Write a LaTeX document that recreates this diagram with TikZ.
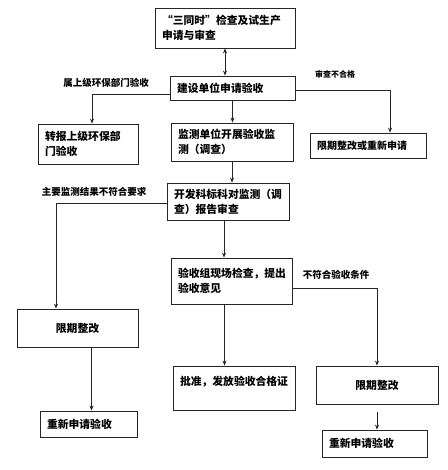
\documentclass[tikz,border=0pt]{standalone}
\usepackage{fontspec}
\newfontfamily\cjk{Noto Sans CJK SC}
\usetikzlibrary{arrows.meta,positioning}

\begin{document}
\begin{tikzpicture}[x=1pt,y=-1pt,>={Stealth[length=5pt,width=4pt]}]
\tikzstyle{box node}=[rectangle,draw=black!85,line width=0.8pt,inner xsep=7pt,inner ysep=2pt,align=left,font=\cjk\bfseries\fontsize{10.8}{15}\selectfont]
\tikzstyle{mid node}=[box node,align=center]
\tikzstyle{note node}=[inner sep=0pt,font=\cjk\bfseries\fontsize{9.5}{11}\selectfont]
\tikzstyle{link}=[draw=black!85,line width=0.8pt]

\useasboundingbox (0,0) rectangle (447,470);

    \node[box node, text width=126pt, minimum height=40pt] (apply)  at (225,28)    {“三同时”检查及试生产\\申请与审查};
    \node[box node, text width=111pt, minimum height=24pt] (build)  at (232.5,88)  {建设单位申请验收};
    \node[box node, text width=86pt,  minimum height=40pt] (upper)  at (88,144)    {转报上级环保部\\门验收};
    \node[box node, text width=108pt, minimum height=38pt] (mon)    at (232,142)   {监测单位开展验收监\\测（调查）};
    \node[box node, text width=102pt, minimum height=25pt, font=\cjk\bfseries\fontsize{10}{12}\selectfont] (redo) at (368,145.5) {限期整改或重新申请};
    \node[box node, text width=108pt, minimum height=37pt] (review) at (228,201.5) {开发科标科对监测（调\\查）报告审查};
    \node[box node, text width=107pt, minimum height=46pt] (site)   at (231.5,281) {验收组现场检查，提出\\验收意见};
    \node[mid node, text width=107pt, minimum height=38pt] (fixl)   at (77.5,328)  {限期整改};
    \node[box node, text width=108pt, minimum height=44pt] (pass)   at (234,388)   {批准，发放验收合格证\\\mbox{}};
    \node[mid node, text width=108pt, minimum height=38pt] (fixr)   at (377,385)   {限期整改};
    \node[box node, text width=83pt,  minimum height=26pt] (againl) at (88.5,424)  {重新申请验收};
    \node[box node, text width=91pt,  minimum height=27pt] (againr) at (374.5,443.5) {重新申请验收};

    %%%%%%%%%%%%%%%%%%%%%%%%%%
    \node[note node] (tupper) at (106,83)  {属上级环保部门验收};
    \node[note node, font=\cjk\bfseries\fontsize{8}{10}\selectfont] (tfail) at (335,74) {审查不合格};
    \node[note node] (tmon)   at (94,192)  {主要监测结果不符合要求};
    \node[note node] (tsite)  at (336,275) {不符合验收条件};

    \path[->]
        (apply.south) edge[link,<->] node {} (apply.south |- build.north)
        (build.south) edge[link] node {} (build.south |- mon.north)
        (mon.south)   edge[link] node {} (mon.south |- review.north)
        ([xshift=-4pt]review.south) edge[link] node {} ([xshift=-4pt]review.south |- site.north)
        ([xshift=-7pt]site.south)   edge[link] node {} ([xshift=-7pt]site.south |- pass.north)
        ([xshift=14pt]fixl.south)   edge[link] node {} ([xshift=14pt]fixl.south |- againl.north)
        (fixr.south)  edge[link,shorten <=8pt] node {} (fixr.south |- againr.north)
    ;
    %%%%%%%%%%%%%%%%%%%%%%%%%%%
    \draw[link,->] ([yshift=-6pt]build.west) -| ([xshift=4pt]upper.north);
    \draw[link,->] ([yshift=-2pt]build.east) -| ([xshift=22pt]redo.north);
    \draw[link,->] ([yshift=-1.5pt]review.west) -| ([xshift=-21.5pt]fixl.north);
    \draw[link,->] ([yshift=-7pt]site.east) -| (fixr.north);
\end{tikzpicture}
\end{document}
